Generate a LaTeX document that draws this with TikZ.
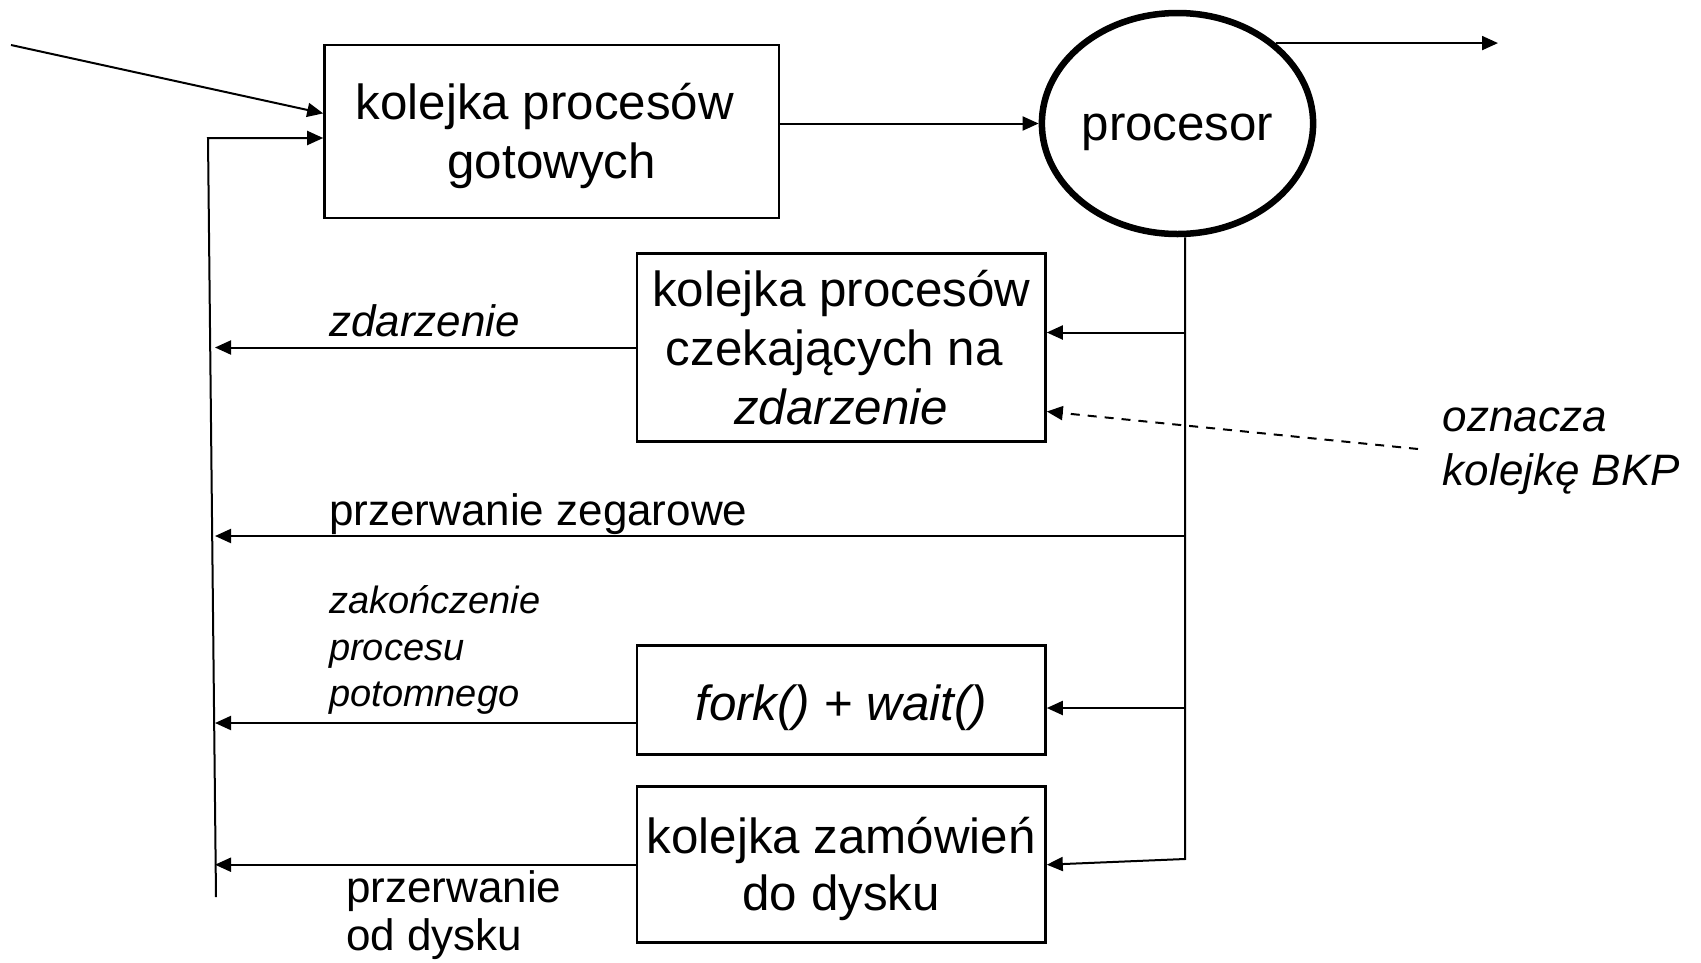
\documentclass[tikz,border=0pt]{standalone}
\usepackage{fontspec}
\setmainfont{Liberation Sans}
\usetikzlibrary{arrows.meta,shapes.geometric,calc}

\newcommand\qboxfont{\fontsize{49.3}{59}\selectfont}
\newcommand\qlabfont{\fontsize{44}{47.3}\selectfont}
\newcommand\qsmallfont{\fontsize{38}{46.7}\selectfont}
\newcommand\qtrail{\rule{13.7pt}{0pt}}

\begin{document}
\begin{tikzpicture}[x=1pt,y=-1pt,
  queue/.style={draw, line width=2.5pt, inner sep=0pt, align=center, font=\qboxfont},
  conn/.style={line width=2pt},
  arr/.style={conn, -{Triangle[length=16pt,width=14pt]}},
  note/.style={arr, dash pattern=on 9pt off 8pt},
  lab/.style={inner sep=0pt, anchor=base west, font=\qlabfont},
  smalllab/.style={inner sep=0pt, anchor=base west, font=\qsmallfont, align=left}
]
\fill[white] (0,0) rectangle (1701,962);
\useasboundingbox (0,0) rectangle (1701,962);

% queues and the processor
\node[queue, minimum width=454.5pt, minimum height=172.7pt] (ready) at (551.7,131.4)
  {\rule{0pt}{46pt}kolejka procesów\qtrail\\gotowych};
\node[draw, ellipse, line width=6.5pt, minimum width=267pt, minimum height=221pt,
  inner sep=0pt, font=\qboxfont, text height=43.4pt, text depth=10.4pt] (cpu) at (1177.5,123.5) {procesor};
\node[queue, minimum width=408.7pt, minimum height=188.4pt] (event) at (841.2,347.5)
  {kolejka procesów\\czekających na\qtrail\\\textit{zdarzenie}};
\node[queue, minimum width=408.7pt, minimum height=108.6pt, text height=52pt, text depth=10.4pt] (fork) at (841.2,700)
  {\textit{fork()} + \textit{wait()}};
\node[queue, minimum width=408.7pt, minimum height=156pt, font=\fontsize{49.3}{57}\selectfont] (store) at (841.2,864.7)
  {\rule{0pt}{44pt}kolejka zamówień\\do dysku};

% labels (multi-line ones are anchored at their last baseline)
\node[lab] (lev) at (329,336.7) {\textit{zdarzenie}};
\node[lab] (lclk) at (329,525) {przerwanie zegarowe};
\node[smalllab] (lchild) at (329,706.7) {\textit{zakończenie}\\\textit{procesu}\\\textit{potomnego}};
\node[lab, align=left, font=\fontsize{44}{53.3}\selectfont] (lbkp) at (1442.6,485) {\textit{oznacza}\\\textit{kolejkę BKP}};
\node[lab, align=left] (ldisk) at (346,950) {przerwanie\\od dysku};

% helper points
\coordinate (src) at (11,45);
\coordinate (sink) at (1498,45);
\coordinate (fbt) at (208,138);
\coordinate (fbb) at (216,897);
\coordinate (lx) at (215,0);
\coordinate (tb) at (1185,859);
\coordinate (clk) at (1185,536);
\coordinate (evin) at ($(event.east)+(0,-15)$);
\coordinate (notetip) at ($(event.east)+(0,64)$);
\coordinate (notesrc) at (1418,449);
\coordinate (fkin) at ($(fork.east)+(0,8)$);
\coordinate (fkout) at ($(fork.west)+(0,23)$);

% flow into and out of the processor
\draw[arr] (src) -- ($(ready.west)+(0,-18)$);
\draw[arr] (ready.east |- cpu.west) -- (cpu.west);
\draw[arr] (cpu.north east) -- (cpu.north east -| sink);

% processor trunk feeding the waiting queues
\draw[arr] (cpu.south -| tb) -- (tb) -- (store.east);
\draw[arr] (tb |- evin) -- (evin);
\draw[arr] (tb |- fkin) -- (fkin);
\draw[note] (notesrc) -- (notetip);

% returns to the ready queue
\draw[arr] (fbb) -- (fbt) -- (fbt -| ready.west);
\draw[arr] (event.west) -- (event.west -| lx);
\draw[arr] (clk) -- (clk -| lx);
\draw[arr] (fkout) -- (fkout -| lx);
\draw[arr] (store.west) -- (store.west -| lx);
\end{tikzpicture}
\end{document}
